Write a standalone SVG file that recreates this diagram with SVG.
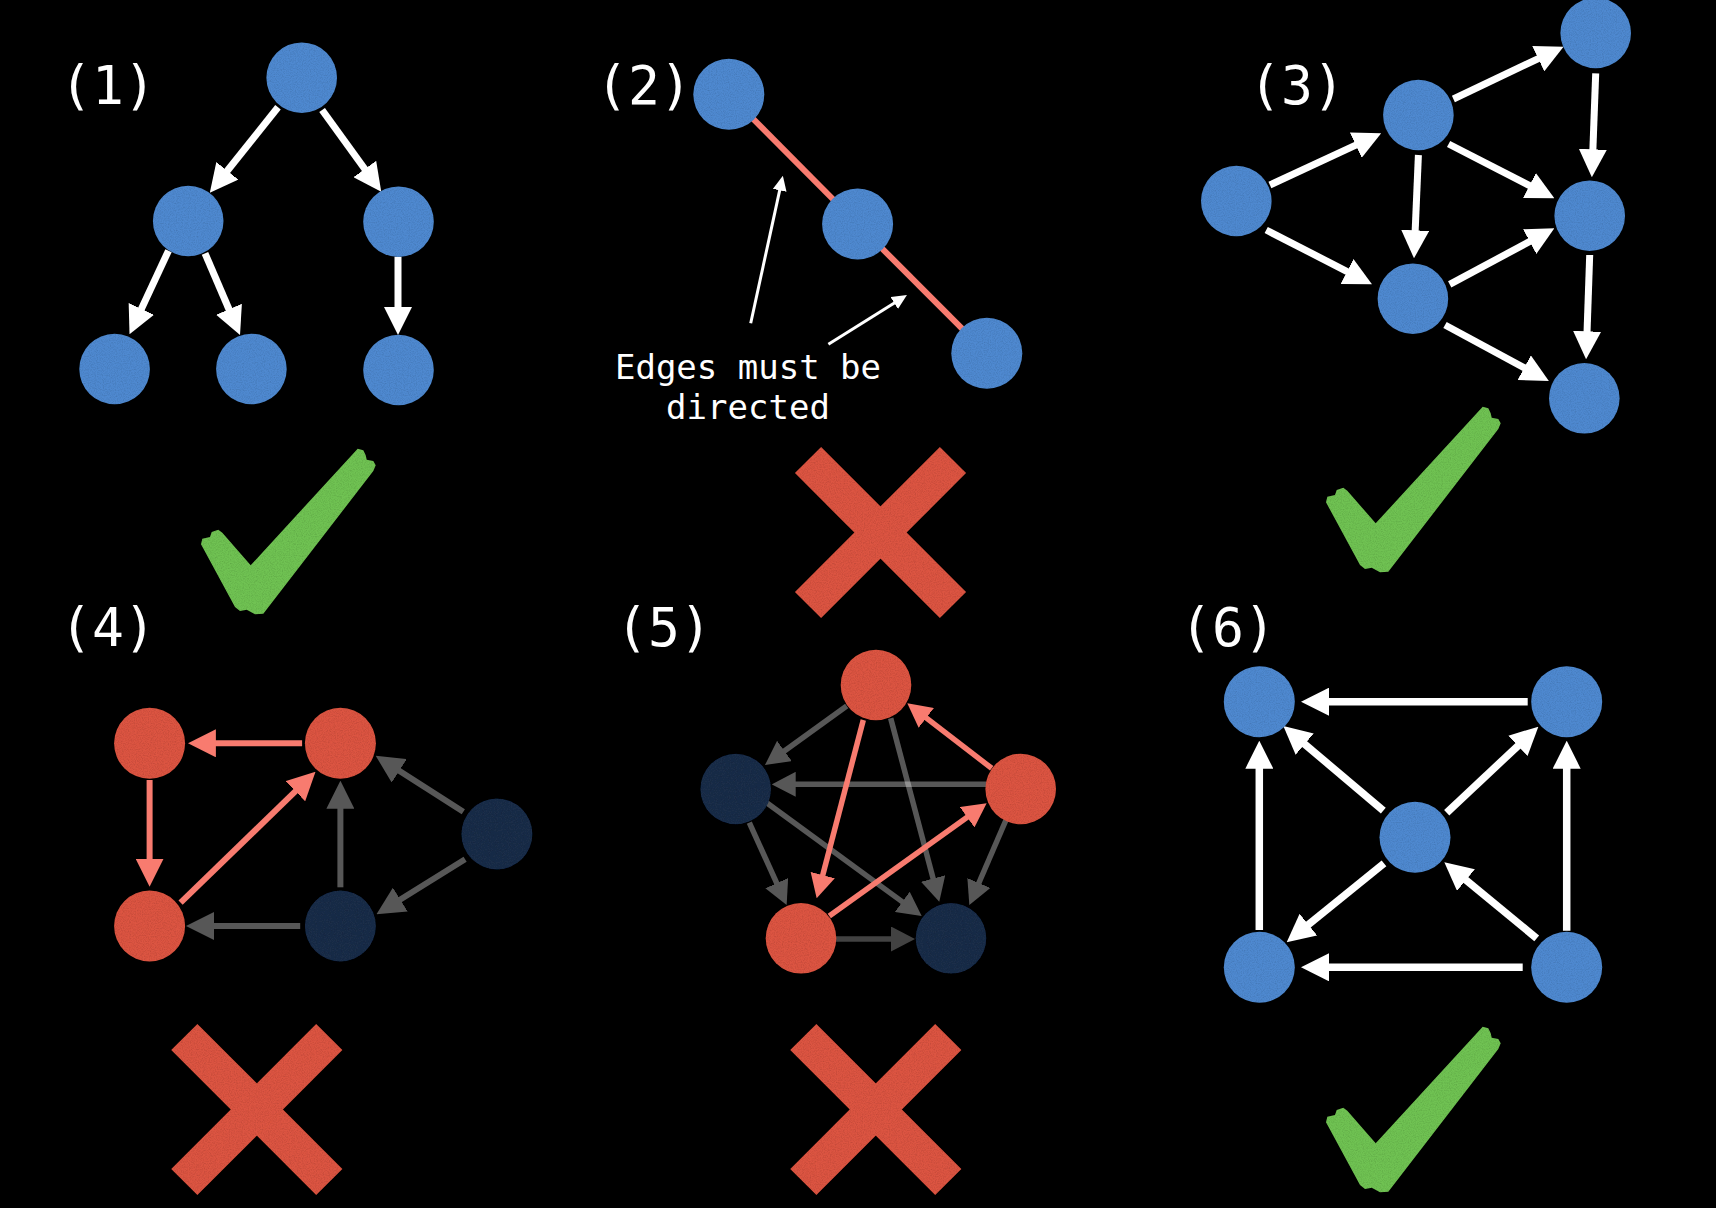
<svg xmlns="http://www.w3.org/2000/svg" width="1716" height="1208" viewBox="0 0 1716 1208">
  <style>
    .lbl { font-family: "DejaVu Sans Mono", "Liberation Mono", monospace; font-size: 53px; fill: #ffffff; }
    .note { font-family: "DejaVu Sans Mono", "Liberation Mono", monospace; font-size: 34px; fill: #ffffff; text-anchor: middle; }
    .blue { fill: #4F89D0; }
    .red { fill: #DC5542; }
    .navy { fill: #1D2D4A; }
    .grain { filter: url(#grain); }
    .w7 { stroke: #ffffff; stroke-width: 7; fill: none; marker-end: url(#ahW); }
    .w75 { stroke: #ffffff; stroke-width: 7.5; fill: none; marker-end: url(#ahW); }
    .s6 { stroke: #F87B6F; stroke-width: 6; fill: none; marker-end: url(#ahS); }
    .g6 { stroke: #ffffff; stroke-width: 6; fill: none; marker-end: url(#ahW); }
    .s55 { stroke: #F87B6F; stroke-width: 5.5; fill: none; marker-end: url(#ahSs); }
    .g55 { stroke: #ffffff; stroke-width: 5.5; fill: none; marker-end: url(#ahWs); }
    .dim { opacity: 0.34; }
    .dimmer { opacity: 0.26; }
    .plain { stroke: #F87B6F; stroke-width: 6; fill: none; }
    .thin { stroke: #ffffff; stroke-width: 3; fill: none; marker-end: url(#ahT); }
    .ok { fill: #70C253; }
    .no { fill: #DC5542; }
  </style>
  <defs>
    <!-- fine speckle texture for filled shapes -->
    <filter id="grain" x="-5%" y="-5%" width="110%" height="110%">
      <feTurbulence type="fractalNoise" baseFrequency="0.85" numOctaves="2" seed="5" result="noise"/>
      <feColorMatrix in="noise" type="matrix" values="0 0 0 0 0  0 0 0 0 0  0 0 0 0 0  0 0 0 0.5 -0.2" result="speck"/>
      <feComposite in="speck" in2="SourceAlpha" operator="in" result="speckIn"/>
      <feMerge><feMergeNode in="SourceGraphic"/><feMergeNode in="speckIn"/></feMerge>
    </filter>
    <marker id="ahW" markerUnits="userSpaceOnUse" markerWidth="28" markerHeight="28" refX="16" refY="14" orient="auto">
      <path d="M0,0L28,14L0,28z" fill="#ffffff"/>
    </marker>
    <marker id="ahS" markerUnits="userSpaceOnUse" markerWidth="28" markerHeight="28" refX="16" refY="14" orient="auto">
      <path d="M0,0L28,14L0,28z" fill="#F87B6F"/>
    </marker>
    <marker id="ahWs" markerUnits="userSpaceOnUse" markerWidth="24" markerHeight="25" refX="12" refY="12.5" orient="auto">
      <path d="M0,0L24,12.5L0,25z" fill="#ffffff"/>
    </marker>
    <marker id="ahSs" markerUnits="userSpaceOnUse" markerWidth="24" markerHeight="25" refX="12" refY="12.5" orient="auto">
      <path d="M0,0L24,12.5L0,25z" fill="#F87B6F"/>
    </marker>
    <marker id="ahT" markerUnits="userSpaceOnUse" markerWidth="15" markerHeight="14" refX="10" refY="7" orient="auto">
      <path d="M0,0L15,7L0,14z" fill="#ffffff"/>
    </marker>
    <path id="tick" d="M16,107.3 L17.3,101.7 L25,100 L26.7,95 L33.3,92.7 L37.3,95.7 L65.7,128.3 L172.7,11.7 L178.3,13.3 L180.7,18.3 L181.7,22.7 L188.3,24 L190.7,28.3 L188.3,34 L78.3,176.7 L70,177.3 L61.7,172.7 L55,174 L50,170 Z"/>
    <g id="cross">
      <rect x="-102.5" y="-18.5" width="205" height="37" transform="rotate(45)"/>
      <rect x="-102.5" y="-18.5" width="205" height="37" transform="rotate(-45)"/>
    </g>
  </defs>

  <rect width="1716" height="1208" fill="#000000"/>

  <!-- panel labels -->
  <g id="labels">
    <text class="lbl" x="60" y="104">(1)</text>
    <text class="lbl" x="596" y="104">(2)</text>
    <text class="lbl" x="1249" y="104">(3)</text>
    <text class="lbl" x="60" y="646">(4)</text>
    <text class="lbl" x="616" y="646">(5)</text>
    <text class="lbl" x="1180" y="646">(6)</text>
    <text class="note" x="748" y="379">Edges must be</text>
    <text class="note" x="748" y="419">directed</text>
  </g>

  <!-- connectors -->
  <g id="connectors">
    <!-- (1) tree -->
    <line class="w7" x1="278" y1="107.3" x2="217.3" y2="183.3"/>
    <line class="w7" x1="322.1" y1="110" x2="374.2" y2="182"/>
    <line class="w7" x1="168.5" y1="250.7" x2="134.6" y2="323.4"/>
    <line class="w7" x1="205" y1="253.3" x2="235.3" y2="324"/>
    <line class="w7" x1="398" y1="256.7" x2="398" y2="323"/>

    <!-- (2) undirected chain and annotation pointers -->
    <line class="plain" x1="728.8" y1="94.3" x2="857.6" y2="224"/>
    <line class="plain" x1="857.6" y1="224" x2="986.8" y2="353.3"/>
    <line class="thin" x1="750.7" y1="323.3" x2="781.8" y2="180.6"/>
    <line class="thin" x1="828.4" y1="344.3" x2="902.7" y2="297.7"/>

    <!-- (3) DAG -->
    <line class="w7" x1="1269.9" y1="185" x2="1370.3" y2="138.4"/>
    <line class="w7" x1="1266.2" y1="230" x2="1361.3" y2="278.8"/>
    <line class="w7" x1="1453.4" y1="99" x2="1552.7" y2="51.8"/>
    <line class="w7" x1="1418.4" y1="155" x2="1414.5" y2="246.3"/>
    <line class="w7" x1="1448.6" y1="144" x2="1543.7" y2="192.8"/>
    <line class="w7" x1="1595.7" y1="73.3" x2="1592.3" y2="165.3"/>
    <line class="w7" x1="1449.7" y1="284.3" x2="1543.8" y2="234"/>
    <line class="w7" x1="1589.7" y1="255" x2="1586.5" y2="347.3"/>
    <line class="w7" x1="1445" y1="325" x2="1538.3" y2="375.3"/>

    <!-- (4) graph with a cycle -->
    <line class="s6" x1="302.1" y1="743.3" x2="199.9" y2="743.3"/>
    <line class="s6" x1="149.6" y1="780" x2="149.6" y2="874.7"/>
    <line class="s6" x1="180.6" y1="902.7" x2="306.9" y2="780.1"/>
    <g class="dim"><line class="g6" x1="340.4" y1="887.3" x2="340.4" y2="792.7"/></g>
    <g class="dim"><line class="g6" x1="463.3" y1="811.7" x2="385.8" y2="762.2"/></g>
    <g class="dim"><line class="g6" x1="465.1" y1="859.3" x2="386.7" y2="908"/></g>
    <g class="dim"><line class="g6" x1="300.2" y1="926" x2="198" y2="926"/></g>

    <!-- (5) pentagon with a cycle -->
    <g class="dim"><line class="g55" x1="846.7" y1="706" x2="774.7" y2="758"/></g>
    <g class="dim"><line class="g55" x1="890.7" y1="718.3" x2="936.2" y2="890.1"/></g>
    <g class="dim"><line class="g55" x1="986" y1="784.3" x2="783.7" y2="784.3"/></g>
    <g class="dim"><line class="g55" x1="1006" y1="820" x2="974.1" y2="894"/></g>
    <g class="dim"><line class="g55" x1="749.3" y1="822.7" x2="781.7" y2="894.1"/></g>
    <g class="dim"><line class="g55" x1="766.7" y1="802.7" x2="912" y2="908.9"/></g>
    <g class="dimmer"><line class="g55" x1="836" y1="939" x2="903" y2="939"/></g>
    <line class="s55" x1="863.3" y1="720" x2="819.7" y2="886.7"/>
    <line class="s55" x1="991.7" y1="768.3" x2="916.8" y2="710.6"/>
    <line class="s55" x1="829.3" y1="916" x2="976.9" y2="810.3"/>

    <!-- (6) square DAG -->
    <line class="w75" x1="1527.7" y1="701.7" x2="1313" y2="701.7"/>
    <line class="w75" x1="1383.3" y1="810.7" x2="1292.5" y2="733.8"/>
    <line class="w75" x1="1446.7" y1="812.7" x2="1529.6" y2="734.9"/>
    <line class="w75" x1="1259.3" y1="930" x2="1259.3" y2="752.7"/>
    <line class="w75" x1="1566.7" y1="930.7" x2="1566.7" y2="752.7"/>
    <line class="w75" x1="1384" y1="863.3" x2="1296" y2="934.7"/>
    <line class="w75" x1="1536.7" y1="938.3" x2="1453.6" y2="869.9"/>
    <line class="w75" x1="1522.7" y1="967.3" x2="1313" y2="967.3"/>
  </g>

  <!-- (1) nodes -->
  <g id="p1-root" class="grain"><circle class="blue" cx="301.7" cy="77.7" r="35.3"/></g>
  <g id="p1-a" class="grain"><circle class="blue" cx="188.2" cy="221" r="35.3"/></g>
  <g id="p1-b" class="grain"><circle class="blue" cx="398.5" cy="221.7" r="35.3"/></g>
  <g id="p1-c" class="grain"><circle class="blue" cx="114.6" cy="369" r="35.3"/></g>
  <g id="p1-d" class="grain"><circle class="blue" cx="251.4" cy="369" r="35.3"/></g>
  <g id="p1-e" class="grain"><circle class="blue" cx="398.5" cy="370" r="35.3"/></g>

  <!-- (2) nodes -->
  <g id="p2-a" class="grain"><circle class="blue" cx="728.8" cy="94.3" r="35.5"/></g>
  <g id="p2-b" class="grain"><circle class="blue" cx="857.6" cy="224" r="35.5"/></g>
  <g id="p2-c" class="grain"><circle class="blue" cx="986.8" cy="353.3" r="35.5"/></g>

  <!-- (3) nodes -->
  <g id="p3-left" class="grain"><circle class="blue" cx="1236.3" cy="201" r="35.3"/></g>
  <g id="p3-mid-top" class="grain"><circle class="blue" cx="1418.4" cy="115" r="35.3"/></g>
  <g id="p3-mid-bottom" class="grain"><circle class="blue" cx="1412.9" cy="298.7" r="35.3"/></g>
  <g id="p3-top-right" class="grain"><circle class="blue" cx="1595.7" cy="33" r="35.3"/></g>
  <g id="p3-right" class="grain"><circle class="blue" cx="1589.7" cy="215.7" r="35.3"/></g>
  <g id="p3-bottom-right" class="grain"><circle class="blue" cx="1584.3" cy="398.3" r="35.3"/></g>

  <!-- (4) nodes -->
  <g id="p4-tl" class="grain"><circle class="red" cx="149.6" cy="743.3" r="35.5"/></g>
  <g id="p4-tr" class="grain"><circle class="red" cx="340.4" cy="743.3" r="35.5"/></g>
  <g id="p4-bl" class="grain"><circle class="red" cx="149.6" cy="926" r="35.5"/></g>
  <g id="p4-br" class="grain"><circle class="navy" cx="340.4" cy="926" r="35.5"/></g>
  <g id="p4-r" class="grain"><circle class="navy" cx="496.9" cy="834" r="35.5"/></g>

  <!-- (5) nodes -->
  <g id="p5-top" class="grain"><circle class="red" cx="876" cy="685" r="35.3"/></g>
  <g id="p5-left" class="grain"><circle class="navy" cx="735.7" cy="789" r="35.3"/></g>
  <g id="p5-right" class="grain"><circle class="red" cx="1020.7" cy="789" r="35.3"/></g>
  <g id="p5-bl" class="grain"><circle class="red" cx="801" cy="938.3" r="35.3"/></g>
  <g id="p5-br" class="grain"><circle class="navy" cx="951" cy="938.3" r="35.3"/></g>

  <!-- (6) nodes -->
  <g id="p6-tl" class="grain"><circle class="blue" cx="1259.3" cy="701.7" r="35.5"/></g>
  <g id="p6-tr" class="grain"><circle class="blue" cx="1566.7" cy="701.7" r="35.5"/></g>
  <g id="p6-c" class="grain"><circle class="blue" cx="1415" cy="837.3" r="35.5"/></g>
  <g id="p6-bl" class="grain"><circle class="blue" cx="1259.3" cy="967.3" r="35.5"/></g>
  <g id="p6-br" class="grain"><circle class="blue" cx="1566.7" cy="967.3" r="35.5"/></g>

  <!-- verdict marks -->
  <g id="verdict-1" class="grain ok"><use href="#tick" transform="translate(185,437)"/></g>
  <g id="verdict-2" class="grain no"><use href="#cross" transform="translate(880.5,532.5)"/></g>
  <g id="verdict-3" class="grain ok"><use href="#tick" transform="translate(1310,395)"/></g>
  <g id="verdict-4" class="grain no"><use href="#cross" transform="translate(256.8,1109.5)"/></g>
  <g id="verdict-5" class="grain no"><use href="#cross" transform="translate(875.8,1109.5)"/></g>
  <g id="verdict-6" class="grain ok"><use href="#tick" transform="translate(1310,1015)"/></g>
</svg>
